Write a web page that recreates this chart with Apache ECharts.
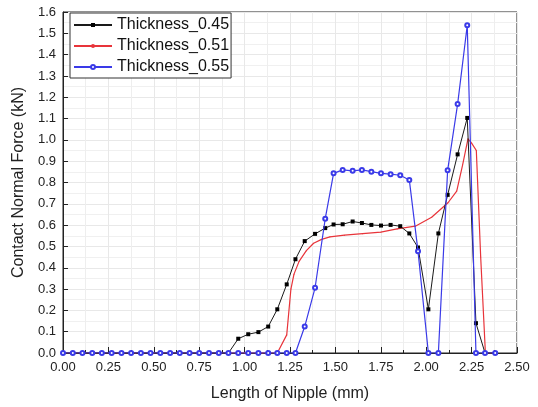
<!DOCTYPE html>
<html>
<head>
<meta charset="utf-8">
<script src="https://cdn.jsdelivr.net/npm/echarts@6/dist/echarts.min.js"></script>
<style>
  html, body { margin: 0; padding: 0; background: #fff; }
  #chart { width: 538px; height: 407px; }
</style>
</head>
<body>
<div id="chart"></div>
<script>
// Shared sample positions (mm) for Thickness_0.45 and Thickness_0.55
const xPos = [0, 0.054, 0.107, 0.161, 0.214, 0.268, 0.322, 0.375, 0.429, 0.482,
  0.536, 0.590, 0.643, 0.697, 0.750, 0.804, 0.858, 0.911, 0.965, 1.020,
  1.076, 1.130, 1.180, 1.232, 1.280, 1.331, 1.388, 1.444, 1.490, 1.540,
  1.595, 1.646, 1.698, 1.751, 1.804, 1.857, 1.907, 1.955, 2.012, 2.067,
  2.118, 2.173, 2.226, 2.274, 2.324, 2.380];

const thick045 = [0, 0, 0, 0, 0, 0, 0, 0, 0, 0,
  0, 0, 0, 0, 0, 0, 0, 0, 0.067, 0.088,
  0.098, 0.124, 0.205, 0.322, 0.440, 0.525, 0.559, 0.586, 0.603, 0.604,
  0.617, 0.610, 0.601, 0.598, 0.601, 0.595, 0.561, 0.495, 0.205, 0.561,
  0.742, 0.932, 1.103, 0.140, 0, 0];

const thick055 = [0, 0, 0, 0, 0, 0, 0, 0, 0, 0,
  0, 0, 0, 0, 0, 0, 0, 0, 0, 0,
  0, 0, 0, 0, 0, 0.124, 0.306, 0.630, 0.843, 0.859,
  0.855, 0.859, 0.851, 0.843, 0.839, 0.834, 0.812, 0.477, 0, 0,
  0.857, 1.168, 1.538, 0, 0, 0];

// Thickness_0.51 sampled separately
const xPos051 = [0, 0.10, 0.20, 0.30, 0.40, 0.50, 0.60, 0.70, 0.80, 0.90, 1.00, 1.10, 1.18,
  1.232, 1.255, 1.272, 1.300, 1.340, 1.380, 1.424, 1.470, 1.550, 1.650, 1.750,
  1.840, 1.940, 2.030, 2.120, 2.168, 2.200, 2.230, 2.250, 2.276, 2.300, 2.326, 2.380];
const thick051 = [0, 0, 0, 0, 0, 0, 0, 0, 0, 0, 0, 0, 0,
  0.085, 0.300, 0.370, 0.430, 0.480, 0.515, 0.533, 0.545, 0.553, 0.560, 0.567,
  0.582, 0.595, 0.637, 0.705, 0.760, 0.880, 1.005, 0.985, 0.950, 0.450, 0, 0];

const seriesNames = ['Thickness_0.45', 'Thickness_0.51', 'Thickness_0.55'];
const xTitle = 'Length of Nipple (mm)';
const yTitle = 'Contact Normal Force (kN)';

function zip(xs, ys) { return xs.map((x, i) => [x, ys[i]]); }

const font = 'Liberation Sans, Arial, sans-serif';
const chart = echarts.init(document.getElementById('chart'));
chart.setOption({
  animation: false,
  backgroundColor: '#fff',
  grid: { left: 63, right: 21, top: 12, bottom: 52, show: true, borderColor: '#222', borderWidth: 1 },
  legend: {
    left: 70, top: 13, orient: 'vertical',
    itemWidth: 38, itemHeight: 5, itemGap: 5,
    borderColor: '#333', borderWidth: 1, padding: [4, 2, 3, 3],
    backgroundColor: '#fff',
    textStyle: { fontFamily: font, fontSize: 16, color: '#111' },
    data: seriesNames
  },
  xAxis: {
    type: 'value', min: 0, max: 2.5, interval: 0.25,
    name: xTitle, nameLocation: 'middle', nameGap: 33,
    nameTextStyle: { fontFamily: font, fontSize: 16, color: '#222' },
    axisLine: { onZero: false, lineStyle: { color: '#222', width: 1 } },
    axisTick: { inside: true, length: 6, lineStyle: { color: '#222' } },
    minorTick: { show: true, splitNumber: 2, length: 3, lineStyle: { color: '#222' } },
    axisLabel: { fontFamily: font, fontSize: 13, color: '#222', margin: 8, formatter: v => v.toFixed(2) },
    splitLine: { show: true, lineStyle: { color: '#e8e8e8', width: 1 } },
    minorSplitLine: { show: true, lineStyle: { color: '#eeeeee', width: 1 } }
  },
  yAxis: {
    type: 'value', min: 0, max: 1.6, interval: 0.1,
    name: yTitle, nameLocation: 'middle', nameGap: 33, nameRotate: 90,
    nameTextStyle: { fontFamily: font, fontSize: 16, color: '#222' },
    axisLine: { onZero: false, lineStyle: { color: '#222', width: 1 } },
    axisTick: { inside: true, length: 5, lineStyle: { color: '#222' } },
    axisLabel: { fontFamily: font, fontSize: 13, color: '#222', margin: 7, formatter: v => v.toFixed(1) },
    splitLine: { show: true, lineStyle: { color: '#e8e8e8', width: 1 } },
    minorSplitLine: { show: true, lineStyle: { color: '#f0f0f0', width: 1 } },
    minorTick: { show: false, splitNumber: 2 }
  },
  series: [
    {
      name: seriesNames[0], type: 'line', data: zip(xPos, thick045),
      color: '#000', symbol: 'rect', symbolSize: 4, showAllSymbol: true,
      lineStyle: { width: 1, color: '#1a1a1a' }, itemStyle: { color: '#000' }, z: 3
    },
    {
      name: seriesNames[1], type: 'line', data: zip(xPos051, thick051),
      color: '#e8343a', symbol: 'circle', symbolSize: 1, showAllSymbol: true,
      lineStyle: { width: 1.2, color: '#e8343a' }, itemStyle: { color: '#e8343a' }, z: 2
    },
    {
      name: seriesNames[2], type: 'line', data: zip(xPos, thick055),
      color: '#3a3ae8', symbol: 'emptyCircle', symbolSize: 4, showAllSymbol: true,
      lineStyle: { width: 1.2, color: '#3a3ae8' }, itemStyle: { color: '#3a3ae8', borderColor: '#6a6af0' }, z: 4
    }
  ]
});
</script>
</body>
</html>
